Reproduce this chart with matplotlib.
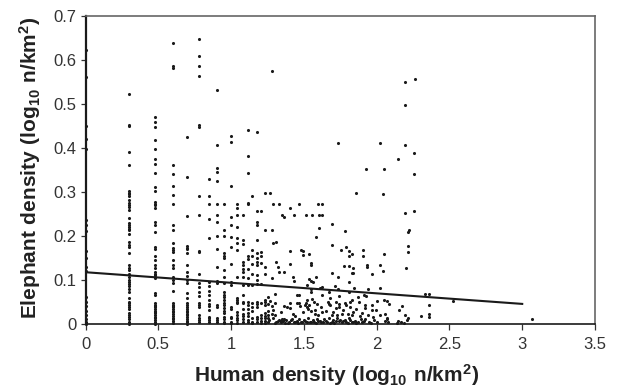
import matplotlib
matplotlib.use("Agg")
import matplotlib.pyplot as plt

plt.rcParams["font.family"] = ["Liberation Sans"]
plt.rcParams["mathtext.fontset"] = "custom"
plt.rcParams["mathtext.bf"] = "Liberation Sans:bold"
plt.rcParams["mathtext.rm"] = "Liberation Sans"

col_x = [0.0, 0.301, 0.477, 0.602, 0.699, 0.778, 0.845, 0.903, 0.954, 1.0,
         1.041, 1.079, 1.114, 1.146, 1.176, 1.204, 1.23, 1.255]
col_y = [
    [0.622, 0.56, 0.45, 0.42, 0.396, 0.235, 0.225, 0.21, 0.165, 0.15, 0.13, 0.12,
     0.06, 0.05, 0.04, 0.03, 0.02, 0.01, 0.005, 0.0],
    [0.523, 0.452, 0.449, 0.391, 0.36, 0.302, 0.298, 0.294, 0.29, 0.282, 0.275, 0.27,
     0.265, 0.258, 0.24, 0.23, 0.224, 0.22, 0.216, 0.212, 0.205, 0.186, 0.18, 0.174,
     0.16, 0.133, 0.127, 0.121, 0.112, 0.107, 0.1, 0.095, 0.09, 0.085, 0.08, 0.073,
     0.058, 0.05, 0.046, 0.042, 0.038, 0.034, 0.025, 0.02, 0.015, 0.01, 0.005, 0.0],
    [0.469, 0.458, 0.448, 0.417, 0.396, 0.375, 0.364, 0.342, 0.311, 0.302, 0.277,
     0.272, 0.27, 0.262, 0.232, 0.224, 0.209, 0.175, 0.169, 0.154, 0.145, 0.133, 0.126,
     0.118, 0.114, 0.11, 0.106, 0.103, 0.069, 0.065, 0.046, 0.043, 0.04, 0.037, 0.034,
     0.03, 0.027, 0.024, 0.02, 0.015, 0.012, 0.008, 0.004, 0.0],
    [0.637, 0.585, 0.582, 0.361, 0.34, 0.313, 0.292, 0.273, 0.224, 0.213, 0.183, 0.171,
     0.167, 0.164, 0.145, 0.133, 0.126, 0.107, 0.099, 0.092, 0.075, 0.046, 0.043, 0.04,
     0.037, 0.034, 0.03, 0.026, 0.022, 0.018, 0.014, 0.01, 0.006, 0.002],
    [0.424, 0.333, 0.245, 0.177, 0.172, 0.169, 0.16, 0.134, 0.118, 0.108, 0.1, 0.092,
     0.069, 0.058, 0.046, 0.042, 0.038, 0.034, 0.03, 0.027, 0.023, 0.019, 0.015, 0.011,
     0.007, 0.003, 0.0],
    [0.647, 0.609, 0.585, 0.564, 0.451, 0.447, 0.29, 0.248, 0.166, 0.164, 0.114, 0.093,
     0.084, 0.072, 0.062, 0.046, 0.042, 0.038, 0.02, 0.014, 0.008, 0.003],
    [0.329, 0.29, 0.272, 0.239, 0.194, 0.095, 0.085, 0.075, 0.065, 0.055, 0.045, 0.04,
     0.032, 0.016, 0.012, 0.008, 0.004],
    [0.531, 0.407, 0.354, 0.345, 0.324, 0.272, 0.248, 0.232, 0.2, 0.17, 0.13, 0.098,
     0.092, 0.042, 0.038, 0.012, 0.008, 0.003],
    [0.272, 0.213, 0.2, 0.161, 0.153, 0.149, 0.122, 0.107, 0.092, 0.073, 0.066, 0.06,
     0.054, 0.048, 0.042, 0.036, 0.03, 0.024, 0.016, 0.011, 0.005, 0.001],
    [0.427, 0.414, 0.314, 0.242, 0.224, 0.198, 0.174, 0.135, 0.095, 0.088, 0.038, 0.034,
     0.016, 0.012, 0.005, 0.001],
    [0.272, 0.262, 0.248, 0.219, 0.194, 0.184, 0.167, 0.107, 0.058, 0.054, 0.05, 0.046,
     0.027, 0.02, 0.014, 0.008, 0.001],
    [0.247, 0.19, 0.181, 0.141, 0.133, 0.125, 0.118, 0.107, 0.088, 0.065, 0.05, 0.046,
     0.034, 0.023, 0.017, 0.01, 0.004],
    [0.44, 0.382, 0.343, 0.275, 0.272, 0.153, 0.146, 0.125, 0.105, 0.088, 0.05, 0.042,
     0.034, 0.024, 0.017, 0.008, 0.003],
    [0.29, 0.167, 0.154, 0.136, 0.114, 0.088, 0.046, 0.038, 0.03, 0.012, 0.005, 0.001],
    [0.435, 0.257, 0.232, 0.224, 0.19, 0.16, 0.15, 0.14, 0.133, 0.11, 0.1, 0.09, 0.05,
     0.044, 0.038, 0.016, 0.01, 0.003],
    [0.257, 0.164, 0.153, 0.137, 0.09, 0.046, 0.02, 0.012, 0.006, 0.001],
    [0.298, 0.213, 0.13, 0.114, 0.054, 0.05, 0.042, 0.024, 0.018, 0.012, 0.006, 0.001],
    [0.06, 0.044, 0.03, 0.02, 0.012, 0.004],
]

# scattered points further right
right_x = [1.283, 1.736, 2.025, 2.192, 2.265, 2.192, 2.192, 2.256, 2.148, 1.926, 2.05,
           2.256, 1.86, 2.041, 2.192, 2.256, 1.267, 1.285, 1.327, 1.468, 1.599, 1.626,
           1.404, 1.347, 1.365, 1.434, 1.512, 1.558, 1.606, 1.626, 1.695, 1.606, 1.784,
           1.281, 1.585, 2.224, 2.215, 1.285, 1.306, 1.695, 1.791, 1.752, 1.404, 1.48,
           1.491, 1.496, 1.537, 1.81, 1.828, 1.81, 1.903, 1.903, 2.05, 2.217, 2.217,
           1.306, 1.551, 1.551, 1.404, 1.324, 1.327, 1.365, 1.775, 1.81, 1.839, 1.933,
           1.933, 2.025, 2.201, 2.041, 1.695, 1.828, 1.839, 1.968, 1.734, 1.423, 1.434,
           1.283, 1.585, 1.537, 1.546, 1.56, 1.81, 1.523, 1.713, 1.734, 1.846, 1.938,
           2.025, 1.551, 1.551, 1.61, 1.626, 1.675, 1.81, 2.334, 2.361, 1.301, 1.45,
           1.468, 1.626, 1.743, 1.874, 1.915, 1.924, 2.526, 2.361, 1.558, 3.07]
right_y = [0.575, 0.411, 0.411, 0.549, 0.555, 0.496, 0.405, 0.389, 0.374, 0.352, 0.352,
           0.34, 0.296, 0.294, 0.252, 0.257, 0.298, 0.271, 0.271, 0.271, 0.271, 0.271,
           0.262, 0.248, 0.243, 0.248, 0.248, 0.248, 0.248, 0.248, 0.227, 0.217, 0.211,
           0.213, 0.197, 0.213, 0.208, 0.183, 0.186, 0.18, 0.175, 0.167, 0.165, 0.167,
           0.165, 0.156, 0.158, 0.165, 0.158, 0.155, 0.167, 0.155, 0.158, 0.176, 0.163,
           0.141, 0.139, 0.134, 0.136, 0.129, 0.118, 0.117, 0.132, 0.132, 0.126, 0.133,
           0.13, 0.133, 0.126, 0.119, 0.116, 0.116, 0.116, 0.114, 0.106, 0.106, 0.098,
           0.105, 0.107, 0.101, 0.097, 0.095, 0.094, 0.088, 0.086, 0.08, 0.081, 0.08,
           0.081, 0.08, 0.073, 0.081, 0.084, 0.073, 0.073, 0.068, 0.068, 0.067, 0.065,
           0.065, 0.065, 0.064, 0.061, 0.065, 0.063, 0.052, 0.042, 0.057, 0.01]

# the crowded band under the regression line
band_x = [1.267, 1.301, 1.404, 1.45, 1.468, 1.514, 1.571, 1.668, 1.675, 1.718, 1.782,
          1.816, 1.828, 1.88, 1.919, 1.965, 2.004, 2.05, 2.068, 2.087, 2.171, 2.155,
          1.278, 1.285, 1.363, 1.386, 1.404, 1.473, 1.507, 1.537, 1.576, 1.615, 1.679,
          1.718, 1.743, 1.771, 1.816, 1.858, 1.919, 1.965, 1.995, 2.023, 2.057, 1.278,
          1.427, 1.496, 1.53, 1.576, 1.622, 1.691, 1.725, 1.805, 1.885, 1.977, 2.194,
          2.213, 2.302, 2.361, 2.357, 2.068, 1.3, 1.34, 1.44, 1.52, 1.55, 1.6, 1.65,
          1.7, 1.74, 1.79, 1.84, 1.9, 1.94, 1.52, 1.59, 1.68, 1.76, 1.83]
band_y = [0.052, 0.048, 0.048, 0.048, 0.048, 0.046, 0.05, 0.05, 0.045, 0.05, 0.048,
          0.05, 0.054, 0.05, 0.042, 0.042, 0.052, 0.054, 0.052, 0.044, 0.04, 0.031,
          0.04, 0.031, 0.04, 0.039, 0.035, 0.04, 0.042, 0.042, 0.031, 0.039, 0.042,
          0.035, 0.037, 0.031, 0.039, 0.033, 0.035, 0.031, 0.031, 0.02, 0.023, 0.023,
          0.022, 0.027, 0.033, 0.023, 0.027, 0.02, 0.02, 0.023, 0.018, 0.016, 0.02,
          0.014, 0.017, 0.022, 0.016, 0.014, 0.02, 0.026, 0.018, 0.038, 0.03, 0.02,
          0.03, 0.027, 0.044, 0.043, 0.026, 0.024, 0.02, 0.055, 0.045, 0.058, 0.022,
          0.02]

floor_x = [1.26, 1.29, 1.31, 1.33, 1.34, 1.35, 1.36, 1.37, 1.38, 1.4, 1.42, 1.43, 1.45,
           1.46, 1.47, 1.49, 1.5, 1.52, 1.53, 1.55, 1.56, 1.58, 1.59, 1.61, 1.63, 1.64,
           1.66, 1.67, 1.69, 1.7, 1.71, 1.73, 1.74, 1.76, 1.78, 1.79, 1.81, 1.83, 1.85,
           1.86, 1.89, 1.9, 1.92, 1.95, 1.98, 2.0, 2.07, 2.08, 2.14, 2.17, 2.19, 2.21,
           1.3, 1.32, 1.345, 1.365, 1.39, 1.41, 1.44, 1.48, 1.51, 1.54, 1.57, 1.6, 1.62,
           1.65, 1.68, 1.72, 1.75, 1.77, 1.8, 1.82, 1.84, 1.87, 1.91, 1.96, 2.06, 2.15]
floor_y = [0.008, 0.012, 0.005, 0.009, 0.003, 0.01, 0.006, 0.002, 0.008, 0.004, 0.011,
           0.003, 0.007, 0.002, 0.01, 0.005, 0.009, 0.003, 0.012, 0.005, 0.008, 0.002,
           0.011, 0.006, 0.003, 0.01, 0.005, 0.012, 0.004, 0.009, 0.002, 0.013, 0.006,
           0.003, 0.009, 0.005, 0.012, 0.003, 0.007, 0.002, 0.01, 0.004, 0.011, 0.005,
           0.009, 0.003, 0.01, 0.003, 0.002, 0.004, 0.002, 0.008,
           0.002, 0.007, 0.007, 0.011, 0.002, 0.008, 0.005, 0.003, 0.006, 0.004, 0.004,
           0.007, 0.004, 0.007, 0.002, 0.006, 0.009, 0.006, 0.002, 0.008, 0.004, 0.005,
           0.007, 0.002, 0.006, 0.006]

line_x = [0, 3]
line_y = [0.117, 0.045]

x_ticks = [0, 0.5, 1, 1.5, 2, 2.5, 3, 3.5]
x_labels = ["0", "0.5", "1", "1.5", "2", "2.5", "3", "3.5"]
y_ticks = [0, 0.1, 0.2, 0.3, 0.4, 0.5, 0.6, 0.7]
y_labels = ["0", "0.1", "0.2", "0.3", "0.4", "0.5", "0.6", "0.7"]

xs = []
ys = []
for x, vals in zip(col_x, col_y):
    for v in vals:
        xs.append(x)
        ys.append(v)
xs = xs + right_x + band_x + floor_x
ys = ys + right_y + band_y + floor_y

fig = plt.figure(figsize=(6.18, 3.88), dpi=100)
ax = fig.add_axes([85.5 / 618, 1 - 323.7 / 388, 509.5 / 618, 308 / 388])

ax.scatter(xs, ys, s=5, color="#1a1a1a", linewidths=0, clip_on=False, zorder=3)
ax.plot(line_x, line_y, color="#1a1a1a", lw=1.5, zorder=4)

ax.set_xlim(0, 3.5)
ax.set_ylim(0, 0.7)
ax.set_xticks(x_ticks)
ax.set_xticklabels(x_labels, fontsize=12)
ax.set_yticks(y_ticks)
ax.set_yticklabels(y_labels, fontsize=12)
ax.tick_params(axis="y", length=3.6, width=0.9, color="#333333", labelcolor="#333333", pad=3)
ax.tick_params(axis="x", length=4.3, width=0.9, color="#333333", labelcolor="#333333", pad=5)

ax.spines["right"].set_color("#666666")
ax.spines["right"].set_linewidth(1.2)
ax.spines["top"].set_color("#666666")
ax.spines["top"].set_linewidth(1.2)
ax.spines["left"].set_linewidth(1.6)
ax.spines["left"].set_color("#1a1a1a")
ax.spines["bottom"].set_linewidth(1.2)
ax.spines["bottom"].set_color("#1a1a1a")

ax.set_xlabel(r"$\mathbf{Human\ density\ (log_{10}\ n/km^2)}$", fontsize=15, color="#222222")
ax.set_ylabel(r"$\mathbf{Elephant\ density\ (log_{10}\ n/km^2)}$", fontsize=15, color="#222222")
ax.xaxis.set_label_coords(0.4917, -0.124)
ax.yaxis.set_label_coords(-0.083, 0.507)

fig.savefig("out.png", dpi=100)
